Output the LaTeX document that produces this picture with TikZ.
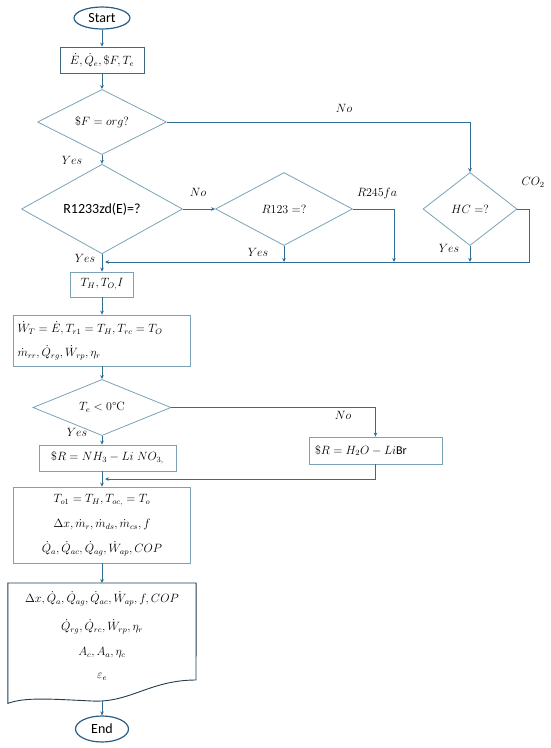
\documentclass[tikz,border=0pt]{standalone}
\usepackage{fontspec}
\newfontfamily\carl{Carlito}
\usetikzlibrary{shapes.geometric,arrows.meta}
\definecolor{conn}{HTML}{2F6D95}
\definecolor{lightedge}{HTML}{7AA3B7}
\definecolor{darkedge}{HTML}{3D6A80}
\definecolor{docedge}{HTML}{203C50}
\definecolor{ovaledge}{HTML}{2B5E85}
\tikzset{
  every node/.style={font=\fontsize{12}{25}\selectfont},
  flow/.style={draw=conn,line width=0.9pt,-{Stealth[length=4pt,width=3.6pt]}},
  plain/.style={draw=conn,line width=0.9pt},
  procbox/.style={draw=lightedge,line width=0.8pt,rectangle,inner sep=2pt},
  decis/.style={draw=lightedge,line width=0.8pt,diamond,inner sep=0pt},
  oval/.style={draw=ovaledge,line width=1.2pt,ellipse,inner sep=0pt,font=\carl\fontsize{14}{16}\selectfont},
  lbl/.style={inner sep=0pt}
}
\begin{document}
\begin{tikzpicture}[x=1pt,y=-1pt]
\useasboundingbox (0,0) rectangle (550,748);
% nodes
\node[oval,minimum width=56pt,minimum height=22pt] (start) at (102,18) {Start};
\node[procbox,draw=darkedge,minimum width=84pt,minimum height=26pt] (b1) at (102,60) {$\dot E,\dot Q_e,\$F,T_e$};
\node[decis,minimum width=129pt,minimum height=62pt] (d1) at (102,122) {$\$F = org?$};
\node[decis,minimum width=161pt,minimum height=80pt,font=\carl\fontsize{14}{16}\selectfont] (d2) at (102,209) {R1233zd(E)=?};
\node[decis,minimum width=137pt,minimum height=73pt] (d3) at (284,209) {$R123 =?$};
\node[decis,minimum width=94pt,minimum height=73pt] (hc) at (470,209) {$HC =?$};
\node[procbox,minimum width=63pt,minimum height=25pt] (b2) at (102,284.5) {$T_H,T_{O,}I$};
\node[procbox,minimum width=177pt,minimum height=51pt,text width=169pt,align=left,inner sep=4pt] (b3) at (102,340.5)
  {$\dot W_T=\dot E, T_{r1}=T_H, T_{rc}=T_O$\\[-1pt]$\dot m_{rr},\dot Q_{rg},\dot W_{rp},\eta_r$};
\node[decis,minimum width=138pt,minimum height=37pt] (d4) at (102,407.5) {$T_e < 0$°C};
\node[procbox,minimum width=137pt,minimum height=26pt] (b4) at (107.5,458) {$\$R = NH_3 - Li\;NO_{3,}$};
\node[procbox,minimum width=133pt,minimum height=27pt,text width=121pt,align=left,inner sep=6pt] (b5) at (375.5,450.5) {$\$R = H_2O - Li${\carl Br}};
\node[procbox,minimum width=177pt,minimum height=76pt,align=center] (b6) at (102,525)
  {$T_{o1}=T_H,T_{oc,}=T_o$\\$\Delta x,\dot m_r,\dot m_{ds},\dot m_{cs},f$\\$\dot Q_a,\dot Q_{ac},\dot Q_{ag},\dot W_{ap},COP$};
\node[minimum width=188pt,minimum height=112pt,inner sep=0pt,align=center,anchor=north] (doc) at (102,583)
  {\\[-6pt]$\Delta x,\dot Q_a,\dot Q_{ag},\dot Q_{ac},\dot W_{ap},f,COP$\\[3pt]$\dot Q_{rg},\dot Q_{rc},\dot W_{rp},\eta_r$\\$A_c,A_a,\eta_c$\\[-2pt]$\varepsilon_e$\\};
\node[oval,minimum width=53pt,minimum height=26pt] (end) at (102,729) {End};
% document shape
\draw[docedge,line width=0.9pt] (doc.north west) -- (doc.north east) -- (196,680)
  .. controls (150,680) and (130,703) .. (92,701) .. controls (50,699) and (25,697) .. (doc.south west) -- cycle;
\coordinate (docbot) at (102,701);
% junction coordinates
\coordinate (m1) at (394,262);
\coordinate (m2) at (284,262);
\coordinate (m3) at (470,262);
\coordinate (jr) at (529,262);
\coordinate (jl) at (102,262);
\coordinate (j2) at (102,479);
% labels
\node[lbl] (lno1) at (344,108) {$No$};
\node[lbl] (lyes1) at (72,160) {$Yes$};
\node[lbl] (lno2) at (198,192) {$No$};
\node[lbl] (lr245) at (377,193) {$R245fa$};
\node[lbl] (lco2) at (533,182) {$CO_2$};
\node[lbl] (lyes3) at (258,252) {$Yes$};
\node[lbl] (lyes4) at (449,248) {$Yes$};
\node[lbl] (lyes2) at (85,258) {$Yes$};
\node[lbl] (lno3) at (343,415) {$No$};
\node[lbl] (lyes5) at (77,432) {$Yes$};
% connectors
\draw[flow] (start) -- (b1);
\draw[flow] (b1) -- (d1);
\draw[flow] (d1.east) -| (hc.north);
\draw[flow] (d1.south) -- (d2.north);
\draw[flow] (d2.east) -- (d3.west);
\draw[flow] (d3.east) -| (m1);
\draw[flow] (d3.south) -- (m2);
\draw[flow] (hc.south) -- (m3);
\draw[flow] (hc.east) -| (jr) -- ([xshift=3pt]jl);
\draw[flow] (d2.south) -- (b2.north);
\draw[flow] (b2) -- (b3);
\draw[flow] (b3.south) -- (d4.north);
\draw[flow] (d4.east) -| (b5.north);
\draw[flow] (d4.south) -- (d4.south |- b4.north);
\draw[flow] (b5.south) |- ([xshift=3pt]j2);
\draw[flow] (b4.south -| b6.north) -- (b6.north);
\draw[flow] (b6.south) -- (doc.north);
\draw[flow] (docbot) -- (end.north);
\end{tikzpicture}
\end{document}
